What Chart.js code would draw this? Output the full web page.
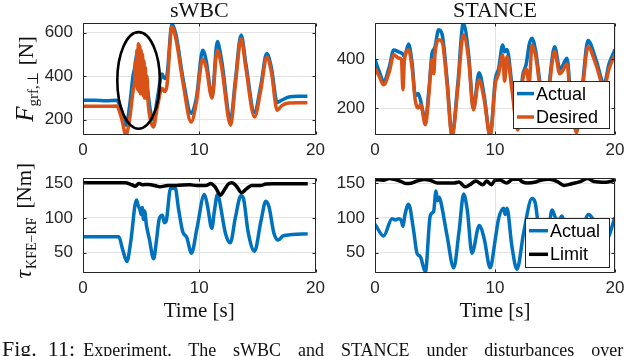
<!DOCTYPE html>
<html>
<head>
<meta charset="utf-8">
<script src="https://cdn.jsdelivr.net/npm/chart.js@4.4.1/dist/chart.umd.min.js"></script>
<style>
  html, body { margin: 0; padding: 0; background: #fff; width: 640px; height: 356px; overflow: hidden; position: relative; }
  canvas { position: absolute; }
  #cap { position: absolute; left: 2px; top: 338px; width: 638px; white-space: nowrap; font-family: "Liberation Serif", serif; color: #111; line-height: 1; }
  #cap .big { font-size: 22px; }
  #cap .rest { display: inline-block; width: 540px; margin-left: 8px; font-size: 18px; text-align: justify; text-align-last: justify; }
</style>
</head>
<body>
<canvas id="tl" width="330" height="160" style="left:0;top:0"></canvas>
<canvas id="tr" width="310" height="160" style="left:330px;top:0"></canvas>
<canvas id="bl" width="330" height="166" style="left:0;top:158px"></canvas>
<canvas id="br" width="310" height="166" style="left:330px;top:158px"></canvas>
<div id="cap"><span class="big">Fig.&nbsp;&nbsp;11:</span><span class="rest">Experiment. The sWBC and STANCE under disturbances over</span></div>

<script>
// --- colours / fonts ---
const BLUE = '#0072BD';
const ORANGE = '#D95319';
const BLACK = '#000000';
const GRID = '#e3e3e3';
const AXIS = '#262626';
const SANS = '"Liberation Sans", Arial, sans-serif';
const SERIF = '"Liberation Serif", "Times New Roman", serif';

const X_TICKS = [0, 10, 20];

// --- sWBC, ground reaction force ---
const tWbcF = [0, 1, 2, 2.9, 3.3, 3.7, 4.0, 4.3, 4.45, 4.52, 4.58, 4.64, 4.70, 4.76, 4.82, 4.88, 4.94, 5.0, 5.06, 5.12, 5.18, 5.24, 5.3, 5.36, 5.42, 5.5, 5.6, 5.8, 6.05, 6.4, 6.8, 7.0, 7.2, 7.65, 8.0, 8.6, 9.3, 9.75, 10.3, 10.6, 11.1, 11.55, 11.9, 12.7, 13.1, 13.6, 14.0, 14.75, 15.3, 15.8, 16.2, 16.7, 17.1, 17.7, 18.5, 19.3];
const wbcActualF = [290, 290, 288, 290, 245, 175, 260, 400, 440, 470, 490, 505, 515, 525, 520, 515, 505, 495, 485, 475, 465, 450, 430, 410, 390, 360, 320, 240, 200, 300, 410, 390, 400, 640, 590, 390, 230, 300, 520, 470, 305, 560, 480, 205, 380, 590, 460, 235, 360, 505, 440, 280, 290, 305, 308, 308];
const wbcDesiredF = [262, 262, 262, 263, 210, 130, 200, 330, 380, 470, 360, 520, 340, 550, 330, 540, 320, 520, 320, 500, 310, 470, 300, 440, 300, 400, 280, 200, 167, 260, 345, 330, 350, 627, 570, 370, 190, 280, 480, 440, 300, 520, 450, 175, 360, 573, 440, 213, 340, 489, 420, 244, 265, 277, 278, 278];
const wbcForceTicks = [200, 400, 600];

// --- STANCE, ground reaction force ---
const tStF = [0, 0.35, 0.72, 1.2, 1.56, 1.97, 2.2, 2.33, 2.45, 2.8, 3.1, 3.36, 3.6, 3.8, 4.2, 4.5, 4.75, 4.9, 5.0, 5.3, 5.6, 6.0, 6.42, 6.9, 7.36, 7.8, 8.2, 8.67, 9.1, 9.6, 10.03, 10.3, 10.64, 10.8, 11.0, 11.4, 11.9, 12.3, 12.6, 12.85, 13.08, 13.4, 13.8, 14.3, 14.97, 15.4, 15.6, 16.0, 16.3, 16.8, 17.3, 17.75, 18.4, 19.1, 19.5, 20];
const stActualF = [397, 350, 309, 370, 438, 430, 425, 420, 410, 462, 380, 250, 260, 230, 152, 280, 424, 440, 450, 520, 500, 320, 90, 300, 547, 420, 200, 345, 250, 88, 320, 360, 458, 430, 440, 300, 120, 330, 380, 460, 486, 430, 290, 250, 451, 360, 370, 404, 250, 110, 300, 476, 400, 300, 380, 440];
const stDesiredF = [363, 330, 295, 350, 418, 405, 400, 275, 395, 438, 360, 230, 200, 215, 132, 260, 400, 340, 420, 479, 470, 300, 85, 280, 499, 400, 193, 316, 235, 85, 300, 340, 418, 310, 410, 280, 110, 310, 360, 300, 458, 410, 270, 235, 431, 340, 350, 380, 230, 100, 280, 451, 380, 285, 360, 420];
const stForceTicks = [200, 400];

// --- sWBC, knee torque ---
const tWbcT = [0, 1, 2, 3.08, 3.4, 3.78, 4.1, 4.6, 4.75, 4.9, 5.0, 5.1, 5.2, 5.3, 5.45, 5.7, 6.08, 6.3, 6.56, 6.83, 7.0, 7.15, 7.53, 7.94, 8.2, 8.58, 8.92, 9.33, 9.8, 10.44, 10.7, 11.08, 11.3, 11.56, 11.7, 12.25, 12.67, 13.1, 13.58, 13.8, 14.2, 14.75, 15.3, 15.72, 16.0, 16.42, 16.8, 17.2, 18.0, 19.33];
const wbcActualT = [73, 73, 73, 73, 55, 37, 65, 126, 118, 112, 105, 115, 98, 110, 90, 70, 41, 65, 99, 104, 93, 95, 143, 143, 115, 80, 72, 49, 85, 134, 118, 85, 110, 134, 128, 78, 64, 100, 132, 128, 80, 52, 95, 124, 116, 78, 68, 74, 76, 77];
const tWbcLim = [0, 3.6, 4.2, 4.5, 4.8, 5.1, 5.6, 6.36, 6.6, 7.3, 8.0, 9.2, 9.75, 10.58, 11.0, 11.4, 11.83, 12.1, 12.5, 12.8, 13.2, 13.64, 14.05, 14.5, 15.3, 15.7, 16.4, 19.33];
const wbcLimit = [151, 151, 148, 146, 150, 148, 148.5, 146, 145, 147, 147, 148, 147, 147, 150, 144, 133, 139, 149, 151, 146, 136.5, 142, 147, 147, 149, 149.5, 149.5];

// --- STANCE, knee torque ---
const tStT = [0, 0.72, 1.42, 1.7, 2.0, 2.2, 2.33, 2.5, 2.8, 3.2, 3.5, 3.78, 4.2, 4.6, 4.89, 5.08, 5.2, 5.35, 5.5, 6.0, 6.56, 7.0, 7.39, 7.7, 8.08, 8.69, 9.1, 9.6, 10.03, 10.3, 10.72, 10.85, 11.0, 11.4, 11.83, 12.4, 13.08, 13.35, 13.7, 14.0, 14.4, 14.75, 15.05, 15.3, 15.58, 16.0, 16.5, 17.1, 17.8, 18.1, 18.7, 19.3, 20];
const stActualT = [91, 74, 99, 97, 99, 96, 88, 105, 120, 84, 49, 44, 22, 103, 110, 139, 125, 130, 122, 75, 28, 80, 134.5, 110, 49, 89, 70, 28, 70, 99, 114, 105, 114, 60, 26, 80, 128, 122, 75, 50, 70, 111.6, 100, 97, 103, 60, 35, 70, 105, 100, 80, 70, 101];
const tStLim = [0, 0.7, 1.2, 1.6, 2.2, 2.6, 3.0, 3.5, 4.1, 4.6, 5.2, 5.8, 6.6, 7.0, 7.5, 7.9, 8.4, 8.97, 9.3, 9.7, 10.0, 10.4, 10.97, 11.5, 12.0, 12.25, 12.7, 13.4, 13.9, 14.5, 15.2, 15.75, 16.4, 17.1, 17.7, 18.25, 19.2, 20];
const stLimit = [155.4, 154.6, 157, 155.8, 152.6, 149.7, 150.2, 153.4, 155.8, 154.6, 150.6, 150.6, 150.6, 152, 145, 148, 153.4, 148, 153.4, 148, 154.5, 155, 150.6, 156, 156, 152.6, 150.6, 152, 155, 156, 152.6, 147, 149.5, 152.6, 157, 152.6, 151.5, 154.5];
const torqueTicks = [50, 100, 150];

// ---- helpers ----
function pts(ts, vs) {
  return ts.map((t, i) => ({ x: t, y: vs[i] }));
}

function series(label, ts, vs, color) {
  return {
    label, data: pts(ts, vs),
    borderColor: color, backgroundColor: color,
    borderWidth: 3.5, pointRadius: 0, fill: false,
    cubicInterpolationMode: 'monotone'
  };
}

function scales(yMin, yMax, yTicks, yWidth, xHeight, xTitle) {
  return {
    x: {
      type: 'linear', min: 0, max: 20,
      afterBuildTicks: s => { s.ticks = X_TICKS.map(v => ({ value: v })); },
      afterFit: s => { s.height = xHeight; },
      grid: { color: GRID, drawTicks: false },
      border: { display: false },
      ticks: { padding: 5, autoSkip: false, maxRotation: 0, color: AXIS, font: { family: SANS, size: 17 } },
      title: xTitle
        ? { display: true, text: xTitle, color: '#111', font: { family: SERIF, size: 21 }, padding: { top: 0, bottom: 0 } }
        : { display: false }
    },
    y: {
      type: 'linear', min: yMin, max: yMax,
      afterBuildTicks: s => { s.ticks = yTicks.map(v => ({ value: v })); },
      afterFit: s => { s.width = yWidth; },
      grid: { color: GRID, drawTicks: false },
      border: { display: false },
      ticks: { padding: 10, autoSkip: false, color: AXIS, font: { family: SANS, size: 17 } }
    }
  };
}

// axes box + inward ticks (matlab style)
const frame = {
  id: 'frame',
  afterDatasetsDraw(chart) {
    const { ctx, chartArea: a, scales: { x, y } } = chart;
    const l = Math.round(a.left) + 0.5, r = Math.round(a.right) - 0.5;
    const t = Math.round(a.top) + 0.5, b = Math.round(a.bottom) - 0.5;
    ctx.save();
    ctx.strokeStyle = AXIS;
    ctx.lineWidth = 1;
    ctx.beginPath();
    ctx.rect(l, t, r - l, b - t);
    x.ticks.forEach(tk => {
      const px = Math.round(x.getPixelForValue(tk.value)) + 0.5;
      ctx.moveTo(px, b); ctx.lineTo(px, b - 3);
      ctx.moveTo(px, t); ctx.lineTo(px, t + 3);
    });
    y.ticks.forEach(tk => {
      const py = Math.round(y.getPixelForValue(tk.value)) + 0.5;
      ctx.moveTo(l, py); ctx.lineTo(l + 3, py);
      ctx.moveTo(r, py); ctx.lineTo(r - 3, py);
    });
    ctx.stroke();
    ctx.restore();
  }
};

// legend box inside the axes, bottom right
const boxLegend = {
  id: 'boxLegend',
  afterDraw(chart, args, o) {
    if (!o.items) return;
    const { ctx, chartArea: a } = chart;
    const x0 = a.right - o.right - o.w, y0 = a.bottom - o.bottom - o.h;
    ctx.save();
    ctx.fillStyle = '#fff';
    ctx.fillRect(x0, y0, o.w, o.h);
    ctx.strokeStyle = AXIS;
    ctx.lineWidth = 1;
    ctx.strokeRect(Math.round(x0) + 0.5, Math.round(y0) + 0.5, Math.round(o.w), Math.round(o.h));
    ctx.font = '18px ' + SANS;
    ctx.textBaseline = 'middle';
    o.items.forEach((it, i) => {
      const cy = y0 + o.rows[i];
      ctx.strokeStyle = it.color;
      ctx.lineWidth = 3.5;
      ctx.beginPath();
      ctx.moveTo(x0 + 4, cy); ctx.lineTo(x0 + 4 + o.sample, cy);
      ctx.stroke();
      ctx.fillStyle = '#000';
      ctx.fillText(it.label, x0 + 6 + o.sample, cy + 1);
    });
    ctx.restore();
  }
};

// rotated y label with subscript
const yLabel = {
  id: 'yLabel',
  afterDraw(chart, args, o) {
    if (!o.parts) return;
    const { ctx, chartArea: a } = chart;
    ctx.save();
    let total = 0;
    const widths = o.parts.map(p => {
      ctx.font = p.font;
      const w = ctx.measureText(p.text).width + (p.gap || 0);
      total += w;
      return w;
    });
    ctx.translate(a.left + o.dx, (a.top + a.bottom) / 2 + o.dy);
    ctx.rotate(-Math.PI / 2);
    ctx.fillStyle = '#111';
    ctx.textBaseline = 'alphabetic';
    let cx = -total / 2;
    o.parts.forEach((p, i) => {
      ctx.font = p.font;
      ctx.fillText(p.text, cx, p.dy || 0);
      cx += widths[i];
    });
    ctx.restore();
  }
};

// the black ellipse around the disturbance in the sWBC plot
const ring = {
  id: 'ring',
  afterDatasetsDraw(chart, args, o) {
    if (!o.rx) return;
    const { ctx, scales: { x, y } } = chart;
    const cx = x.getPixelForValue(o.cx), cy = y.getPixelForValue(o.cy);
    const rx = Math.abs(x.getPixelForValue(o.cx + o.rx) - cx);
    const ry = Math.abs(y.getPixelForValue(o.cy + o.ry) - cy);
    ctx.save();
    ctx.strokeStyle = BLACK;
    ctx.lineWidth = 2.6;
    ctx.beginPath();
    ctx.ellipse(cx, cy, rx, ry, 0, 0, Math.PI * 2);
    ctx.stroke();
    ctx.restore();
  }
};

function title(text) {
  return {
    display: true, text, fullSize: false, color: '#111',
    font: { family: SERIF, size: 22, weight: 'normal', lineHeight: 1 },
    padding: { top: 0, bottom: 1 }
  };
}

const forceLabel = [
  { text: 'F', font: 'italic 25px ' + SERIF },
  { text: 'grf,⊥', font: '15px ' + SERIF, dy: 5, gap: 7 },
  { text: '[N]', font: '21px ' + SERIF }
];
const torqueLabel = [
  { text: 'τ', font: 'italic 24px ' + SERIF, gap: 1 },
  { text: 'KFE−RF', font: '14px ' + SERIF, dy: 5, gap: 9 },
  { text: '[Nm]', font: '21px ' + SERIF }
];

function base(extra) {
  return Object.assign({
    responsive: false, animation: false,
    plugins: { legend: { display: false }, tooltip: { enabled: false } }
  }, extra);
}

// ---- sWBC force ----
new Chart(document.getElementById('tl'), {
  type: 'line',
  data: { datasets: [
    series('Desired', tWbcF, wbcDesiredF, ORANGE),
    series('Actual', tWbcF, wbcActualF, BLUE)
  ] },
  options: base({
    layout: { padding: { top: 0, right: 7, bottom: 0, left: 0 } },
    scales: scales(130, 645, wbcForceTicks, 83, 25),
    plugins: {
      legend: { display: false }, tooltip: { enabled: false },
      title: title('sWBC'),
      ring: { cx: 4.78, cy: 381, rx: 1.83, ry: 222 },
      yLabel: { parts: forceLabel, dx: -50, dy: 0 }
    }
  }),
  plugins: [ring, frame, yLabel]
});

// ---- STANCE force ----
new Chart(document.getElementById('tr'), {
  type: 'line',
  data: { datasets: [
    series('Desired', tStF, stDesiredF, ORANGE),
    series('Actual', tStF, stActualF, BLUE)
  ] },
  options: base({
    layout: { padding: { top: 0, right: 25, bottom: 0, left: 0 } },
    scales: scales(90, 548, stForceTicks, 45, 25),
    plugins: {
      legend: { display: false }, tooltip: { enabled: false },
      title: title('STANCE'),
      boxLegend: {
        items: [{ label: 'Actual', color: BLUE }, { label: 'Desired', color: ORANGE }],
        right: 6, bottom: 7, w: 96, h: 47, rows: [12.6, 36], sample: 17
      }
    }
  }),
  plugins: [frame, boxLegend]
});

// ---- sWBC torque ----
new Chart(document.getElementById('bl'), {
  type: 'line',
  data: { datasets: [
    series('Limit', tWbcLim, wbcLimit, BLACK),
    series('Actual', tWbcT, wbcActualT, BLUE)
  ] },
  options: base({
    layout: { padding: { top: 5.3, right: 7, bottom: 0, left: 0 } },
    scales: scales(20, 157.5, torqueTicks, 83, 50.7, 'Time [s]'),
    plugins: {
      legend: { display: false }, tooltip: { enabled: false },
      yLabel: { parts: torqueLabel, dx: -52, dy: -5 }
    }
  }),
  plugins: [frame, yLabel]
});

// ---- STANCE torque ----
new Chart(document.getElementById('br'), {
  type: 'line',
  data: { datasets: [
    series('Limit', tStLim, stLimit, BLACK),
    series('Actual', tStT, stActualT, BLUE)
  ] },
  options: base({
    layout: { padding: { top: 5.3, right: 25, bottom: 0, left: 0 } },
    scales: scales(20, 157.5, torqueTicks, 45, 50.7, 'Time [s]'),
    plugins: {
      legend: { display: false }, tooltip: { enabled: false },
      boxLegend: {
        items: [{ label: 'Actual', color: BLUE }, { label: 'Limit', color: BLACK }],
        right: 6, bottom: 6.6, w: 84, h: 48.7, rows: [12.7, 36.3], sample: 19
      }
    }
  }),
  plugins: [frame, boxLegend]
});
</script>
</body>
</html>
